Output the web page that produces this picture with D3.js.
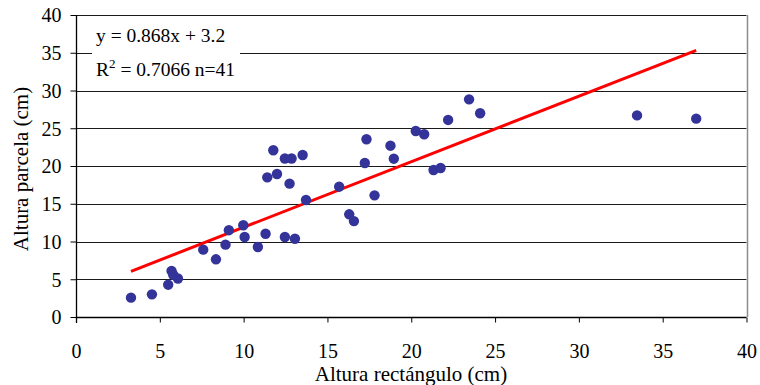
<!DOCTYPE html>
<html>
<head>
<meta charset="utf-8">
<script src="https://cdn.jsdelivr.net/npm/d3@7"></script>
<style>
  html, body { margin: 0; padding: 0; background: #fff; }
  svg { display: block; }
  svg text { font-family: "Liberation Serif", Tinos, "Times New Roman", Times, "DejaVu Serif", serif; fill: #000; }
</style>
</head>
<body>
<svg id="chart" width="760" height="385"></svg>
<script>
// Rectangle height vs. plot height, in cm
const rectHeight = [3.28, 4.53, 5.5, 5.7, 5.8, 6.08, 7.59, 8.35, 8.92, 9.12, 9.98, 10.06,
  10.85, 11.31, 11.41, 11.77, 11.99, 12.46, 12.46, 12.74, 12.86, 13.06, 13.52, 13.72,
  15.7, 16.3, 16.58, 17.23, 17.33, 17.81, 18.76, 18.96, 20.27, 20.77, 21.33, 21.75,
  22.2, 23.45, 24.11, 33.47, 37.0];
const plotHeight = [2.56, 3.0, 4.28, 6.1, 5.6, 5.1, 8.92, 7.64, 9.58, 11.5, 12.15, 10.6,
  9.27, 11.03, 18.5, 22.08, 18.94, 21.0, 10.6, 17.66, 21.0, 10.37, 21.46, 15.5,
  17.26, 13.6, 12.7, 20.4, 23.54, 16.11, 22.69, 20.97, 24.64, 24.2, 19.47, 19.74,
  26.1, 28.83, 26.98, 26.7, 26.27];

// Linear fit reported in the legend
const slope = 0.868;
const intercept = 3.2;
const rSquared = "0.7066";
const nObs = 41;

const xTicks = [0, 5, 10, 15, 20, 25, 30, 35, 40];
const yTicks = [0, 5, 10, 15, 20, 25, 30, 35, 40];

const serif = '"Liberation Serif", Tinos, "Times New Roman", Times, "DejaVu Serif", serif';

const svg = d3.select("#chart");
const x = d3.scaleLinear().domain([0, 40]).range([76, 746.5]);
const y = d3.scaleLinear().domain([0, 40]).range([317, 15]);

// horizontal gridlines
svg.append("g")
  .selectAll("line")
  .data(yTicks.filter(d => d > 0))
  .join("line")
  .attr("x1", x(0)).attr("x2", x(40))
  .attr("y1", d => Math.round(y(d)) + 0.5).attr("y2", d => Math.round(y(d)) + 0.5)
  .attr("stroke", "#1a1a1a").attr("stroke-width", 1);

// right border of the plot area
svg.append("line")
  .attr("x1", Math.round(x(40)) + 0.5).attr("x2", Math.round(x(40)) + 0.5)
  .attr("y1", y(40)).attr("y2", y(0))
  .attr("stroke", "#8c8c8c").attr("stroke-width", 1.5);

// axes
const xAxis = d3.axisBottom(x).tickValues(xTicks).tickSize(5).tickPadding(21);
const yAxis = d3.axisLeft(y).tickValues(yTicks).tickSize(6).tickPadding(9);

const gx = svg.append("g").attr("transform", `translate(0,${Math.round(y(0)) + 0.5})`).call(xAxis);
const gy = svg.append("g").attr("transform", `translate(${Math.round(x(0)) + 0.5},0)`).call(yAxis);
[gx, gy].forEach(g => {
  g.attr("font-family", serif).attr("font-size", 20);
  g.select(".domain").attr("stroke", "#000").attr("stroke-width", 1.3);
  g.selectAll(".tick line").attr("stroke", "#000").attr("stroke-width", 1);
  g.selectAll(".tick text").attr("fill", "#000");
});
gy.selectAll(".tick text").attr("dy", "0.34em");
gx.select(".domain").attr("d", `M${x(0)},0H${x(40)}`);
gy.select(".domain").attr("d", `M0,${y(0) + 6}V${y(40)}`);

// legend box with the regression equation
const legend = svg.append("g").attr("font-family", serif).attr("font-size", 19.5);
legend.append("rect")
  .attr("x", 92).attr("y", 21).attr("width", 148).attr("height", 62)
  .attr("fill", "#fff");
legend.append("text")
  .attr("x", 96).attr("y", 42)
  .text(`y = ${slope}x + ${intercept}`);
const r2 = legend.append("text").attr("x", 96).attr("y", 76);
r2.append("tspan").text("R");
r2.append("tspan").attr("dy", -8).attr("font-size", 13).text("2");
r2.append("tspan").attr("dy", 8).text(` = ${rSquared} n=${nObs}`);

// regression line across the observed range
const xMin = d3.min(rectHeight), xMax = d3.max(rectHeight);
svg.append("line")
  .attr("x1", x(xMin)).attr("y1", y(slope * xMin + intercept))
  .attr("x2", x(xMax)).attr("y2", y(slope * xMax + intercept))
  .attr("stroke", "#ff0000").attr("stroke-width", 3);

// observations
svg.append("g")
  .selectAll("circle")
  .data(rectHeight.map((v, i) => [v, plotHeight[i]]))
  .join("circle")
  .attr("cx", d => x(d[0])).attr("cy", d => y(d[1]))
  .attr("r", 5.2)
  .attr("fill", "#333399");

// axis titles
const titles = svg.append("g").attr("font-family", serif).attr("font-size", 21);
titles.append("text")
  .attr("x", 411).attr("y", 381)
  .attr("text-anchor", "middle")
  .text("Altura rectángulo (cm)");
titles.append("text")
  .attr("transform", "translate(28,169) rotate(-90)")
  .attr("text-anchor", "middle")
  .text("Altura parcela (cm)");
</script>
</body>
</html>
